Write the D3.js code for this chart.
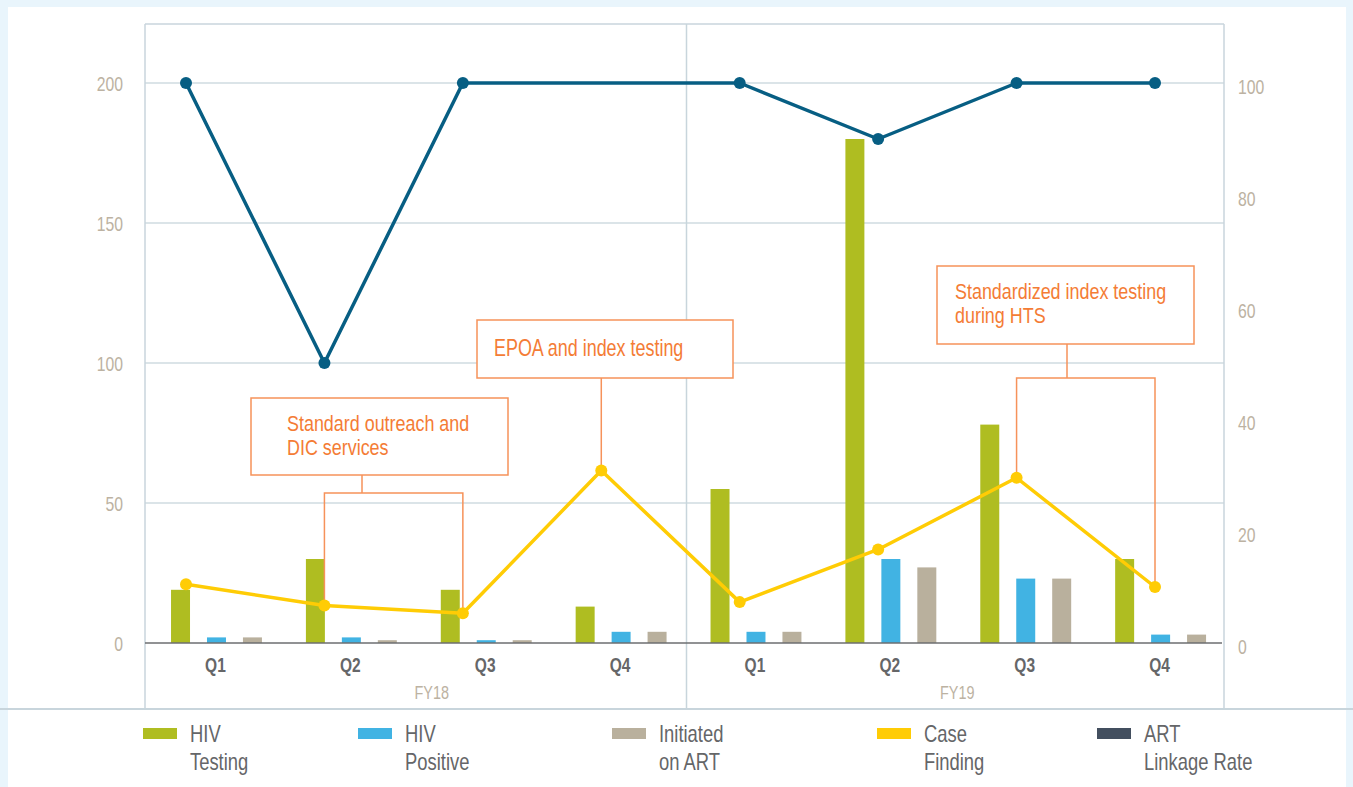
<!DOCTYPE html>
<html>
<head>
<meta charset="utf-8">
<script src="https://cdn.jsdelivr.net/npm/d3@7/dist/d3.min.js"></script>
<style>
  html, body { margin: 0; padding: 0; background: #e9f5fc; }
  svg { display: block; }
  text { font-family: "Liberation Sans", Arial, sans-serif; }
</style>
</head>
<body>
<svg id="chart" width="1353" height="787"></svg>
<script>
// ---------- DATA ----------
const fiscalYears = ["FY18", "FY19"];
const quarters = ["Q1", "Q2", "Q3", "Q4"];
const periods = fiscalYears.flatMap(fy => quarters.map(q => fy + " " + q));

const hivTesting   = [19, 30, 19, 13, 55, 180, 78, 30];
const hivPositive  = [2, 2, 1, 4, 4, 30, 23, 3];
const initiatedART = [2, 1, 1, 4, 4, 27, 23, 3];
const caseFinding  = [10.5, 6.7, 5.3, 30.8, 7.3, 16.7, 29.5, 10];       // right axis (%)
const artLinkage   = [100, 50, 100, null, 100, 90, 100, 100];          // right axis (%)

const leftTicks  = [0, 50, 100, 150, 200];
const rightTicks = [0, 20, 40, 60, 80, 100];

const barSeries = ["HIV Testing", "HIV Positive", "Initiated on ART"];
const legendLabels = [["HIV", "Testing"], ["HIV", "Positive"], ["Initiated", "on ART"], ["Case", "Finding"], ["ART", "Linkage Rate"]];

const annotationTexts = [
  ["Standard outreach and", "DIC services"],
  ["EPOA and index testing"],
  ["Standardized index testing", "during HTS"]
];
const annotationTargets = [[1, 2], [3], [6, 7]];

// ---------- STYLE / LAYOUT ----------
const colors = {
  "HIV Testing": "#afbd21",
  "HIV Positive": "#41b3e3",
  "Initiated on ART": "#b9b09d",
  caseFinding: "#ffcc05",
  artLine: "#075e83",
  artLegend: "#434f5f",
  grid: "#cfdbe1",
  frame: "#c8d5dc",
  axisText: "#bcb2a2",
  darkText: "#656668",
  orange: "#f47c35",
  orangeLine: "#f6925a"
};
const SX = 0.79; // horizontal condensing of text
const W = 1353, H = 787;
const plot = { left: 145, right: 1224, top: 24, bottom: 708 };
const y0px = 643, y200px = 83;

// condense: move x into transform and scale horizontally around the anchor
function condense(sel, sx = SX) {
  sel.each(function () {
    const t = d3.select(this);
    const x = +t.attr("x") || 0;
    t.attr("x", 0).attr("transform", `translate(${x},0) scale(${sx},1)`);
  });
}

const svg = d3.select("#chart");

// background panel
svg.append("rect").attr("x", 0).attr("y", 0).attr("width", W).attr("height", H).attr("fill", "#e9f5fc");
svg.append("rect").attr("x", 8).attr("y", 7).attr("width", 1338).attr("height", H - 7).attr("fill", "#ffffff");

// scales
const yL = d3.scaleLinear().domain([0, 200]).range([y0px, y200px]);
const yR = d3.scaleLinear().domain([0, 100]).range([y0px, y200px]);
const x0 = d3.scaleBand().domain(periods).range([plot.left, plot.right]);
const bw = x0.bandwidth();
const x1 = d3.scaleBand().domain(barSeries).range([bw * 0.193, bw * 0.867]).paddingInner(0.472);
const xp = d3.scalePoint().domain(periods).range([plot.left + 41, plot.left + 1010]);

// gridlines (left ticks)
svg.append("g").selectAll("line").data(leftTicks.filter(d => d > 0)).join("line")
  .attr("x1", plot.left).attr("x2", plot.right)
  .attr("y1", d => yL(d)).attr("y2", d => yL(d))
  .attr("stroke", colors.grid).attr("stroke-width", 1.5);

// frame
const frame = svg.append("g").attr("stroke", colors.frame).attr("stroke-width", 1.5).attr("fill", "none");
frame.append("line").attr("x1", plot.left).attr("x2", plot.right).attr("y1", plot.top).attr("y2", plot.top);
frame.append("line").attr("x1", plot.left).attr("x2", plot.left).attr("y1", plot.top).attr("y2", plot.bottom);
frame.append("line").attr("x1", plot.right).attr("x2", plot.right).attr("y1", plot.top).attr("y2", plot.bottom);
const midX = x0(periods[4]) + 2;
frame.append("line").attr("x1", midX).attr("x2", midX).attr("y1", plot.top).attr("y2", plot.bottom);
frame.append("line").attr("x1", 0).attr("x2", W).attr("y1", plot.bottom + 1).attr("y2", plot.bottom + 1).attr("stroke-width", 2);

// left axis
const axL = svg.append("g").attr("transform", `translate(${plot.left - 22},0)`)
  .call(d3.axisLeft(yL).tickValues(leftTicks).tickSize(0).tickPadding(0));
axL.select(".domain").remove();
axL.selectAll("text").attr("fill", colors.axisText).style("font-size", "21px")
  .style("font-family", '"Liberation Sans", Arial, sans-serif').attr("dy", "0.38em").call(condense, 0.75);

// right axis
const axR = svg.append("g").attr("transform", `translate(${plot.right + 14},0)`)
  .call(d3.axisRight(yR).tickValues(rightTicks).tickSize(0).tickPadding(0));
axR.select(".domain").remove();
axR.selectAll("text").attr("fill", colors.axisText).style("font-size", "21px")
  .style("font-family", '"Liberation Sans", Arial, sans-serif').attr("dy", "0.52em").call(condense, 0.75);

// bars
const barData = periods.map((p, i) => ({ p, vals: [hivTesting[i], hivPositive[i], initiatedART[i]] }));
svg.append("g").selectAll("g").data(barData).join("g")
  .attr("transform", d => `translate(${x0(d.p)},0)`)
  .selectAll("rect").data(d => d.vals.map((v, k) => ({ s: barSeries[k], v }))).join("rect")
  .attr("x", d => x1(d.s)).attr("width", x1.bandwidth())
  .attr("y", d => yL(d.v)).attr("height", d => yL(0) - yL(d.v))
  .attr("fill", d => colors[d.s]);

// baseline
svg.append("line").attr("x1", plot.left).attr("x2", plot.right - 2).attr("y1", y0px).attr("y2", y0px)
  .attr("stroke", "#6d6e70").attr("stroke-width", 1.5);

// x axis quarter labels
const axB = svg.append("g").attr("transform", `translate(3,${y0px + 22})`)
  .call(d3.axisBottom(x0).tickSize(0).tickPadding(0).tickFormat(d => d.split(" ")[1]));
axB.select(".domain").remove();
axB.selectAll("text").attr("fill", colors.darkText).style("font-size", "21px").style("font-weight", "bold")
  .style("font-family", '"Liberation Sans", Arial, sans-serif').attr("dy", "0.35em").call(condense, 0.74);

// fiscal year labels
const fyOffsets = [17, 3];
svg.append("g").selectAll("text").data(fiscalYears).join("text")
  .attr("x", (d, i) => (x0(periods[i * 4]) + x0(periods[i * 4 + 3]) + bw) / 2 + fyOffsets[i])
  .attr("y", 692).attr("dy", "0.35em").attr("text-anchor", "middle")
  .attr("fill", colors.axisText).style("font-size", "19px").text(d => d).call(condense, 0.76);

// annotations
const annBoxes = [
  { x: 251, y: 398, w: 257, h: 77, tx: 36, stemX: 362, bracketY: 493 },
  { x: 477, y: 320, w: 256, h: 58, tx: 17, stemX: null, bracketY: null },
  { x: 937, y: 266, w: 257, h: 78, tx: 18, stemX: 1067, bracketY: 378 }
];
const ann = svg.append("g");
annBoxes.forEach((b, i) => {
  const g = ann.append("g");
  g.append("rect").attr("x", b.x).attr("y", b.y).attr("width", b.w).attr("height", b.h)
    .attr("fill", "#fff").attr("stroke", colors.orangeLine).attr("stroke-width", 1.5);
  const lines = annotationTexts[i];
  const firstY = lines.length === 1 ? b.y + b.h / 2 - 1 : b.y + 25;
  g.selectAll("text").data(lines).join("text")
    .attr("x", b.x + b.tx).attr("y", (d, k) => firstY + k * 24).attr("dy", "0.35em")
    .attr("fill", colors.orange).style("font-size", lines.length === 1 ? "23px" : "22px")
    .text(d => d).call(condense, lines.length === 1 ? 0.78 : 0.815);
  const tg = annotationTargets[i];
  if (tg.length === 1) {
    const px = xp(periods[tg[0]]);
    g.append("line").attr("x1", px).attr("x2", px).attr("y1", b.y + b.h).attr("y2", yR(caseFinding[tg[0]]))
      .attr("stroke", colors.orangeLine).attr("stroke-width", 1.5);
  } else {
    const xa = xp(periods[tg[0]]), xb = xp(periods[tg[1]]);
    g.append("line").attr("x1", b.stemX).attr("x2", b.stemX).attr("y1", b.y + b.h).attr("y2", b.bracketY)
      .attr("stroke", colors.orangeLine).attr("stroke-width", 1.5);
    g.append("path")
      .attr("d", `M${xa},${yR(caseFinding[tg[0]])}V${b.bracketY}H${xb}V${yR(caseFinding[tg[1]])}`)
      .attr("fill", "none").attr("stroke", colors.orangeLine).attr("stroke-width", 1.5);
  }
});

// case finding line
const cfData = periods.map((p, i) => ({ p, v: caseFinding[i] }));
svg.append("path").datum(cfData)
  .attr("d", d3.line().x(d => xp(d.p)).y(d => yR(d.v)))
  .attr("fill", "none").attr("stroke", colors.caseFinding).attr("stroke-width", 3.5).attr("stroke-linejoin", "round");
svg.append("g").selectAll("circle").data(cfData).join("circle")
  .attr("cx", d => xp(d.p)).attr("cy", d => yR(d.v)).attr("r", 6).attr("fill", colors.caseFinding);

// ART linkage line (gaps skipped)
const artData = periods.map((p, i) => ({ p, v: artLinkage[i] })).filter(d => d.v !== null);
svg.append("path").datum(artData)
  .attr("d", d3.line().x(d => xp(d.p)).y(d => yR(d.v)))
  .attr("fill", "none").attr("stroke", colors.artLine).attr("stroke-width", 3.5).attr("stroke-linejoin", "round");
svg.append("g").selectAll("circle").data(artData).join("circle")
  .attr("cx", d => xp(d.p)).attr("cy", d => yR(d.v)).attr("r", 6).attr("fill", colors.artLine);

// legend
const legendColors = [colors["HIV Testing"], colors["HIV Positive"], colors["Initiated on ART"], colors.caseFinding, colors.artLegend];
const legendX = [143, 358, 612, 877, 1097];
const lg = svg.append("g");
legendLabels.forEach((lab, i) => {
  const g = lg.append("g").attr("transform", `translate(${legendX[i]},0)`);
  g.append("rect").attr("x", 0).attr("y", 728).attr("width", 34).attr("height", 11).attr("fill", legendColors[i]);
  g.selectAll("text").data(lab).join("text")
    .attr("x", 47).attr("y", (d, k) => 734 + k * 28).attr("dy", "0.35em")
    .attr("fill", colors.darkText).style("font-size", "23px").text(d => d).call(condense, 0.8);
});
</script>
</body>
</html>
